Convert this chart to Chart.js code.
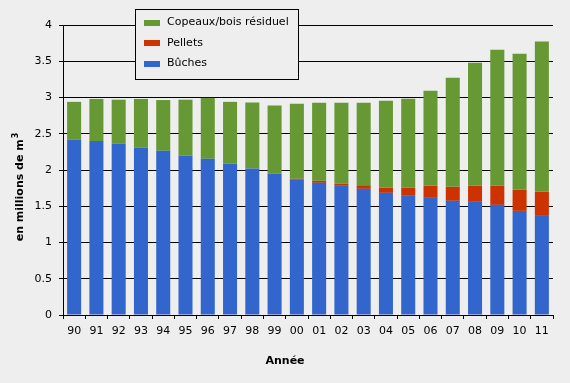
<!DOCTYPE html>
<html><head><meta charset="utf-8">
<script src="https://cdn.jsdelivr.net/npm/chart.js@4/dist/chart.umd.min.js"></script>
<style>html,body{margin:0;padding:0;background:#EEEEEE;}#wrap{width:570px;height:383px;}</style>
</head><body><div id="wrap"><canvas id="c" width="570" height="383"></canvas></div>
<script>
const categories = ['90','91','92','93','94','95','96','97','98','99','00','01','02','03','04','05','06','07','08','09','10','11'];
const buches  = [2.42,2.40,2.36,2.31,2.265,2.20,2.155,2.09,2.02,1.95,1.865,1.823,1.782,1.74,1.685,1.644,1.616,1.575,1.561,1.519,1.436,1.367];
const pellets = [0,0,0,0,0,0,0,0,0,0,0.014,0.028,0.028,0.041,0.069,0.11,0.166,0.193,0.221,0.263,0.29,0.332];
const copeaux = [0.52,0.58,0.61,0.67,0.70,0.77,0.84,0.85,0.91,0.94,1.035,1.077,1.119,1.146,1.202,1.229,1.312,1.505,1.699,1.878,1.879,2.072];
const seriesLabels = ['Bûches','Pellets','Copeaux/bois résiduel'];
const seriesColors = ['#3366CC','#CC3300','#669933'];
const yMin = 0, yMax = 4, yStep = 0.5;
const xTitle = 'Année';
const yTitle = 'en millions de m';
const yTitleSup = '3';
const BG = '#EEEEEE';
const FONT = '"DejaVu Sans", Verdana, sans-serif';

const deco = {
  id: 'deco',
  beforeDraw(chart){
    const c = chart.ctx; c.save(); c.fillStyle = BG; c.fillRect(0,0,chart.width,chart.height); c.restore();
  },
  afterDraw(chart){
    const ctx = chart.ctx;
    ctx.save();
    // legend box
    ctx.fillStyle = BG; ctx.fillRect(135,9,163,70);
    ctx.strokeStyle = '#000'; ctx.lineWidth = 1; ctx.strokeRect(135.5,9.5,163,70);
    const ds = chart.data.datasets.slice().reverse();
    ctx.font = '11px ' + FONT; ctx.textBaseline = 'middle'; ctx.textAlign = 'left';
    ds.forEach((d,i)=>{
      const cy = 22.5 + i*20.5;
      ctx.fillStyle = d.backgroundColor;
      ctx.fillRect(144, Math.round(cy)-3, 16, 6);
      ctx.fillStyle = '#000';
      ctx.fillText(d.label, 167, cy);
    });
    // x title
    ctx.font = 'bold 11px ' + FONT; ctx.textAlign = 'center';
    ctx.fillText(xTitle, 285, 361);
    // y title
    ctx.translate(20, 187); ctx.rotate(-Math.PI/2);
    ctx.font = 'bold 11px ' + FONT;
    const w1 = ctx.measureText(yTitle).width;
    ctx.font = 'bold 8px ' + FONT;
    const w2 = ctx.measureText(yTitleSup).width;
    const start = -(w1 + w2 + 1)/2;
    ctx.textAlign = 'left';
    ctx.font = 'bold 11px ' + FONT;
    ctx.fillText(yTitle, start, 0);
    ctx.font = 'bold 8px ' + FONT;
    ctx.fillText(yTitleSup, start + w1 + 1, -4);
    ctx.restore();
  }
};

const mk = (i, data) => ({label: seriesLabels[i], data, backgroundColor: seriesColors[i], borderWidth: 0, barPercentage: 0.63, categoryPercentage: 1});

new Chart(document.getElementById('c'), {
  type: 'bar',
  data: { labels: categories, datasets: [mk(0,buches), mk(1,pellets), mk(2,copeaux)] },
  options: {
    responsive: false, animation: false, devicePixelRatio: 1,
    layout: { padding: { left: 0, right: 17, top: 25, bottom: 0 } },
    plugins: { legend: { display: false }, tooltip: { enabled: false } },
    scales: {
      x: {
        stacked: true,
        afterFit(s){ s.height = 68; },
        grid: { drawOnChartArea: false, offset: true, color: '#000', tickLength: 4, tickColor: '#000' },
        border: { display: true, color: '#000', width: 1 },
        ticks: { color: '#000', font: { family: FONT, size: 11 }, padding: 6, maxRotation: 0, autoSkip: false }
      },
      y: {
        stacked: true, min: yMin, max: yMax,
        afterFit(s){ s.width = 63; },
        grid: { color: '#000', lineWidth: 1, tickLength: 4, tickColor: '#000' },
        border: { display: true, color: '#000', width: 1 },
        ticks: { stepSize: yStep, color: '#000', font: { family: FONT, size: 11 }, padding: 7, callback: v => String(v) }
      }
    }
  },
  plugins: [deco]
});
</script></body></html>
